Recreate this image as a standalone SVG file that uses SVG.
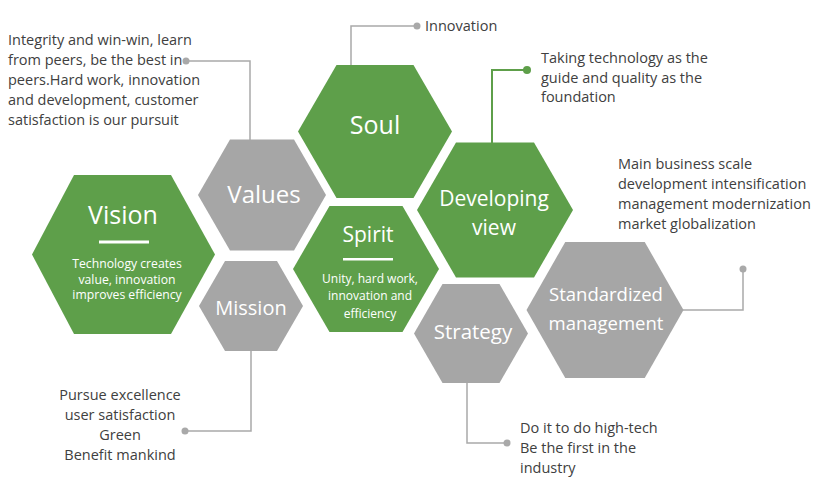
<svg xmlns="http://www.w3.org/2000/svg" width="820" height="500" viewBox="0 0 820 500">
<style>
.g{fill:#5e9f4a}
.s{fill:#a6a6a6}
.t{fill:#fff;font-family:"Open Sans","Noto Sans",sans-serif;text-anchor:middle}
.d{fill:#404040;font-family:"Open Sans","Noto Sans",sans-serif;font-size:14.5px}
.ln{fill:none;stroke:#a9a9a9;stroke-width:1.5}
.lg{fill:none;stroke:#5e9f4a;stroke-width:2}
.dot{fill:#a9a9a9}
.dotg{fill:#5e9f4a}
</style>
<rect width="820" height="500" fill="#fff"/>
<g id="connectors">
<polyline class="ln" points="186,61 250,61 250,140"/>
<polyline class="ln" points="351,65 351,26 417,26"/>
<polyline class="lg" points="492,143 492,70 527,70"/>
<polyline class="ln" points="683,310 743,310 743,269"/>
<polyline class="ln" points="251,351 251,431 185,431"/>
<polyline class="ln" points="467,383 467,443 507,443"/>
<circle class="dot" cx="186" cy="61" r="3.5"/>
<circle class="dot" cx="417" cy="26" r="3.5"/>
<circle class="dotg" cx="527" cy="70" r="4"/>
<circle class="dot" cx="743" cy="269" r="3.5"/>
<circle class="dot" cx="185" cy="431" r="3.5"/>
<circle class="dot" cx="507" cy="443" r="3.5"/>
</g>
<g id="vision">
<polygon class="g" points="32,254.5 74,175 171,175 215,254.5 171,334 74,334"/>
<text class="t" x="123" y="224" font-size="25">Vision</text>
<rect x="99" y="240.5" width="50" height="3" fill="#fff"/>
<text class="t" x="127" y="268" font-size="12.2">Technology creates</text>
<text class="t" x="127" y="283.5" font-size="12.2">value, innovation</text>
<text class="t" x="127" y="299" font-size="12.2">improves efficiency</text>
</g>
<g id="values">
<polygon class="s" points="198,195 230,139.5 294,139.5 326,195 294,250.5 230,250.5"/>
<text class="t" x="264" y="203" font-size="24">Values</text>
</g>
<g id="mission">
<polygon class="s" points="199,306 225,261 277,261 303,306 277,351 225,351"/>
<text class="t" x="251" y="315" font-size="20">Mission</text>
</g>
<g id="soul">
<polygon class="g" points="298,131.5 336.5,65 413.5,65 452,131.5 413.5,198 336.5,198"/>
<text class="t" x="375" y="134" font-size="25">Soul</text>
</g>
<g id="spirit">
<polygon class="g" points="293,269 329.5,206 402.5,206 439,269 402.5,332 329.5,332"/>
<text class="t" x="368" y="242" font-size="21">Spirit</text>
<rect x="343" y="258" width="50" height="2.5" fill="#fff"/>
<text class="t" x="370" y="283" font-size="12">Unity, hard work,</text>
<text class="t" x="370" y="300" font-size="12">innovation and</text>
<text class="t" x="370" y="317.5" font-size="12">efficiency</text>
</g>
<g id="developing-view">
<polygon class="g" points="417,210 456,142.5 534,142.5 573,210 534,277.5 456,277.5"/>
<text class="t" x="494" y="206" font-size="21">Developing</text>
<text class="t" x="494" y="235" font-size="21">view</text>
</g>
<g id="strategy">
<polygon class="s" points="414,333.5 442.5,284 499.5,284 528,333.5 499.5,383 442.5,383"/>
<text class="t" x="473" y="338.5" font-size="20.5">Strategy</text>
</g>
<g id="standardized-management">
<polygon class="s" points="526.5,310 565.25,242 644.75,242 683.5,310 644.75,378 565.25,378"/>
<text class="t" x="606" y="301" font-size="18.5">Standardized</text>
<text class="t" x="606" y="330" font-size="18.5">management</text>
</g>
<g id="values-text">
<text class="d" x="8" y="45">Integrity and win-win, learn</text>
<text class="d" x="8" y="65">from peers, be the best in</text>
<text class="d" x="8" y="85">peers.Hard work, innovation</text>
<text class="d" x="8" y="105">and development, customer</text>
<text class="d" x="8" y="125">satisfaction is our pursuit</text>
</g>
<g id="soul-text">
<text class="d" x="425" y="31">Innovation</text>
</g>
<g id="developing-text">
<text class="d" x="541" y="62.5">Taking technology as the</text>
<text class="d" x="541" y="82.5">guide and quality as the</text>
<text class="d" x="541" y="102">foundation</text>
</g>
<g id="standardized-text">
<text class="d" x="618" y="169">Main business scale</text>
<text class="d" x="618" y="189">development intensification</text>
<text class="d" x="618" y="209">management modernization</text>
<text class="d" x="618" y="229">market globalization</text>
</g>
<g id="mission-text">
<text class="d" x="120" y="400" text-anchor="middle">Pursue excellence</text>
<text class="d" x="120" y="420" text-anchor="middle">user satisfaction</text>
<text class="d" x="120" y="440" text-anchor="middle">Green</text>
<text class="d" x="120" y="460" text-anchor="middle">Benefit mankind</text>
</g>
<g id="strategy-text">
<text class="d" x="520" y="433">Do it to do high-tech</text>
<text class="d" x="520" y="453">Be the first in the</text>
<text class="d" x="520" y="473">industry</text>
</g>
</svg>
